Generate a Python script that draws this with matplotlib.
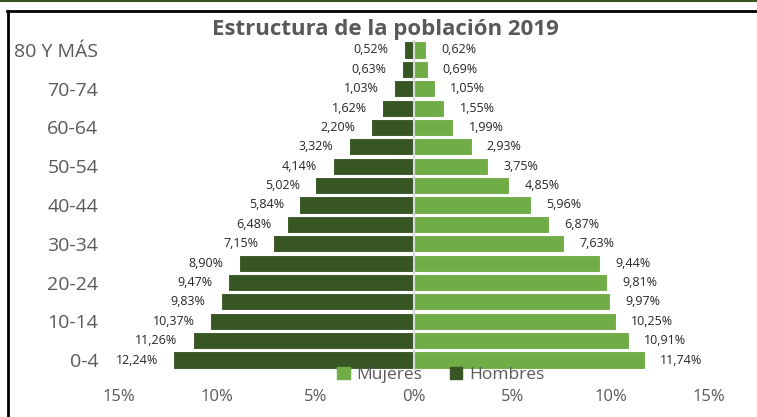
import matplotlib.pyplot as plt
import numpy as np
from matplotlib.lines import Line2D
from matplotlib.patches import Patch

plt.rcParams["font.family"] = ["Open Sans", "DejaVu Sans"]

grupos = ["0-4", "5-9", "10-14", "15-19", "20-24", "25-29", "30-34", "35-39",
          "40-44", "45-49", "50-54", "55-59", "60-64", "65-69", "70-74",
          "75-79", "80 Y MÁS"]
hombres = [12.24, 11.26, 10.37, 9.83, 9.47, 8.90, 7.15, 6.48, 5.84, 5.02,
           4.14, 3.32, 2.20, 1.62, 1.03, 0.63, 0.52]
mujeres = [11.74, 10.91, 10.25, 9.97, 9.81, 9.44, 7.63, 6.87, 5.96, 4.85,
           3.75, 2.93, 1.99, 1.55, 1.05, 0.69, 0.62]

c_hom = "#375623"
c_muj = "#70AD47"
gris = "#595959"

fig = plt.figure(figsize=(7.57, 4.17), dpi=100)
ax = fig.add_axes([119 / 757, 1 - 369.7 / 417, 590 / 757, 329.4 / 417])

y = np.arange(len(grupos))
bh = ax.barh(y, -np.array(hombres), height=0.88, color=c_hom,
             edgecolor="white", linewidth=0.8)
bm = ax.barh(y, mujeres, height=0.88, color=c_muj,
             edgecolor="white", linewidth=0.8)

fmt = lambda v: f"{v:.2f}".replace(".", ",") + "%"
for yi, v in zip(y, hombres):
    ax.annotate(fmt(v), (-v, yi), xytext=(-11, 0), textcoords="offset points",
                ha="right", va="center", fontsize=9, color="#262626")
for yi, v in zip(y, mujeres):
    ax.annotate(fmt(v), (v, yi), xytext=(11, 0), textcoords="offset points",
                ha="left", va="center", fontsize=9, color="#262626")

ax.axvline(0, color="#D9D9D9", linewidth=1.5)
ax.set_xlim(-15, 15)
ax.set_ylim(-0.5, len(grupos) - 0.5)
ticks = np.arange(-15, 16, 5)
ax.set_xticks(ticks)
ax.set_xticklabels([f"{abs(t)}%" for t in ticks], fontsize=12, color=gris)
ax.set_yticks(y[::2])
ax.set_yticklabels(grupos[::2], fontsize=14, color=gris)
ax.tick_params(axis="x", length=0, pad=14)
ax.tick_params(axis="y", length=0, pad=15)
for s in ax.spines.values():
    s.set_visible(False)

fig.text(385 / 757, 1 - 30 / 417, "Estructura de la población 2019",
         ha="center", va="center", fontsize=16, fontweight="bold", color=gris)

handles = [Patch(color=c_muj, label="Mujeres"), Patch(color=c_hom, label="Hombres")]
fig.legend(handles=handles, loc="center", bbox_to_anchor=(441 / 757, 1 - 375 / 417),
           ncol=2, frameon=False, fontsize=12.5, labelcolor=gris,
           handlelength=0.7, handleheight=0.7, handletextpad=0.4,
           columnspacing=1.6, borderpad=0)

# marco
fig.add_artist(Line2D([0, 1], [1 - 1 / 417] * 2, color="#375623", linewidth=1.5))
fig.add_artist(Line2D([7 / 757, 1], [1 - 10.5 / 417] * 2, color="black", linewidth=2))
fig.add_artist(Line2D([7.5 / 757] * 2, [0, 1 - 10.5 / 417], color="black", linewidth=2))

fig.savefig("out.png", dpi=100)
